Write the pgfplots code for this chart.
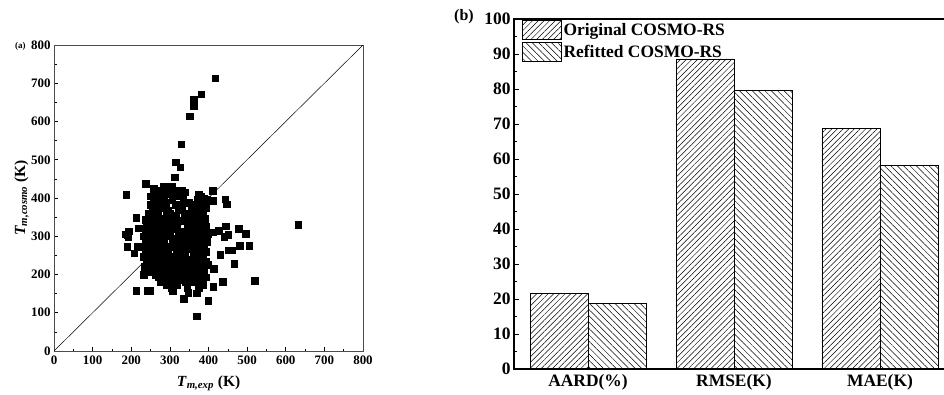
\documentclass[border=0pt]{standalone}
\usepackage{fontspec}
\setmainfont{Liberation Serif}
\usepackage{pgfplots}
\pgfplotsset{compat=1.18}
\usetikzlibrary{patterns.meta}

\pgfplotstableread{
x y
417 713
381 671
361 658
361 641
352 614
329 541
315 494
327 481
313 454
632 330
520 184
187 409
238 438
213 158
242 158
248 158
370 91
399 131
336 137
412 168
436 181
467 228
505 275
496 306
478 319
480 275
460 264
451 264
430 252
443 397
447 384
445 326
451 304
441 299
427 314
412 311
411 419
412 393
413 215
399 225
382 219
369 151
347 152
308 158
189 273
190 304
194 313
186 305
192 298
213 349
208 256
215 273
238 343
218 321
229 321
283 430
296 430
305 430
258 425
270 420
318 420
330 420
262 415
289 415
340 415
277 410
300 410
375 410
251 405
266 405
312 405
325 405
380 405
284 400
388 400
258 395
272 395
306 395
335 395
372 395
396 395
264 388
290 388
348 388
385 388
250 382
278 382
315 382
360 382
268 375
285 375
330 375
378 375
392 375
255 368
295 368
322 368
355 368
368 368
245 360
262 360
300 360
338 360
350 360
385 360
270 353
290 353
315 353
362 353
375 353
252 346
283 346
303 346
342 346
390 346
240 340
265 340
296 340
320 340
335 340
370 340
257 333
288 333
308 333
350 333
382 333
247 326
270 326
300 326
318 326
345 326
376 326
393 326
236 320
260 320
292 320
310 320
358 320
252 313
275 313
288 313
322 313
338 313
385 313
242 306
265 306
300 306
330 306
365 306
378 306
398 306
232 300
258 300
280 300
295 300
345 300
390 300
248 293
270 293
308 293
320 293
335 293
372 293
238 286
262 286
285 286
350 286
362 286
395 286
252 280
275 280
312 280
326 280
340 280
378 280
230 273
245 273
265 273
290 273
303 273
355 273
388 273
258 266
280 266
318 266
332 266
345 266
375 266
237 260
250 260
270 260
295 260
360 260
382 260
394 260
262 253
285 253
322 253
338 253
370 253
233 246
248 246
275 246
298 246
312 246
365 246
385 246
258 240
268 240
288 240
330 240
345 240
378 240
240 233
280 233
300 233
318 233
372 233
392 233
250 226
265 226
292 226
310 226
335 226
362 226
235 220
258 220
275 220
325 220
342 220
380 220
245 213
285 213
300 213
318 213
355 213
370 213
252 206
268 206
290 206
333 206
348 206
388 206
232 200
262 200
278 200
308 200
320 200
362 200
375 200
270 193
295 193
340 193
352 193
392 193
285 186
315 186
328 186
368 186
380 186
276 180
300 180
340 180
358 180
290 173
318 173
385 173
305 166
345 166
375 166
}\scatterdata

\begin{document}
\begin{tikzpicture}
\useasboundingbox (0,0) rectangle (944bp,-395bp);
% Panel (a)
\begin{axis}[
  at={(54bp,-351bp)}, anchor=south west, scale only axis,
  width=309bp, height=306bp,
  xmin=0, xmax=800, ymin=0, ymax=800,
  xtick={0,100,...,800}, ytick={0,100,...,800},
  xticklabels={0,100,200,300,400,500,600,700,800},
  yticklabels={0,100,200,300,400,500,600,700,800},
  minor tick num=1,
  tick align=inside, tick pos=left,
  major tick length=4bp, minor tick length=2.5bp,
  every tick/.style={black, line width=0.6pt},
  ticklabel style={font=\fontsize{13}{13}\selectfont\bfseries},
  xticklabel style={yshift=-1bp},
  axis line style={line width=1pt, black!70},
  xlabel={\textbf{\textit{T}\textsubscript{\textit{m,exp}} (K)}},
  ylabel={\textbf{\textit{T}\textsubscript{\textit{m,cosmo}} (K)}},
  label style={font=\fontsize{15.5}{16}\selectfont},
  xlabel style={at={(axis description cs:0.5,-0.105)}, anchor=center},
  ylabel style={at={(axis description cs:-0.105,0.5)}, anchor=center},
]
\addplot[black, line width=0.5pt, no marks] coordinates {(0,0) (800,800)};
\addplot[only marks, mark=square*, mark size=3.3bp, black, mark options={draw=black, fill=black}] table[x=x,y=y] {\scatterdata};
\end{axis}
\node[anchor=west, font=\fontsize{9}{9}\selectfont\bfseries, inner sep=0pt] at (15bp,-46bp) {(a)};
% Panel (b)
\begin{axis}[
  at={(514bp,-369bp)}, anchor=south west, scale only axis,
  width=440bp, height=350bp,
  ybar=0pt, bar width=58bp,
  xmin=-0.507, xmax=2.507, ymin=0, ymax=100,
  xtick={0,1,2}, xticklabels={AARD(\%),RMSE(K),MAE(K)},
  ytick={0,10,...,100}, yticklabels={0,10,20,30,40,50,60,70,80,90,100},
  minor ytick={5,15,...,95}, minor xtick={0.5,1.5},
  tick align=inside, tick pos=left,
  major tick length=5bp, minor tick length=3bp,
  every tick/.style={black, line width=0.8pt},
  xtick style={draw=none},
  ticklabel style={font=\fontsize{17.5}{18}\selectfont\bfseries},
  xticklabel style={yshift=-2bp},
  axis line style={line width=1.5pt, black},
  legend style={draw=none, fill=none, at={(0.015,1)}, anchor=north west,
    font=\fontsize{17.5}{18}\selectfont\bfseries, row sep=2bp, inner sep=1bp,
    /tikz/every even column/.append style={column sep=3bp}},
  legend cell align=left,
  legend image code/.code={\draw[#1, line width=0.8pt] (0bp,-9.5bp) rectangle (39bp,9.5bp);},
]
\addplot[draw=black, line width=0.8pt, pattern={Lines[angle=45,distance=4bp,line width=0.5bp]}] coordinates {(0,21.6) (1,88.6) (2,68.8)};
\addlegendentry{Original COSMO-RS}
\addplot[draw=black, line width=0.8pt, pattern={Lines[angle=-45,distance=4.5bp,line width=0.5bp]}] coordinates {(0,18.8) (1,79.7) (2,58.1)};
\addlegendentry{Refitted COSMO-RS}
\end{axis}
\node[anchor=west, font=\fontsize{16}{16}\selectfont\bfseries, inner sep=0pt] at (454bp,-17bp) {(b)};
\end{tikzpicture}
\end{document}
